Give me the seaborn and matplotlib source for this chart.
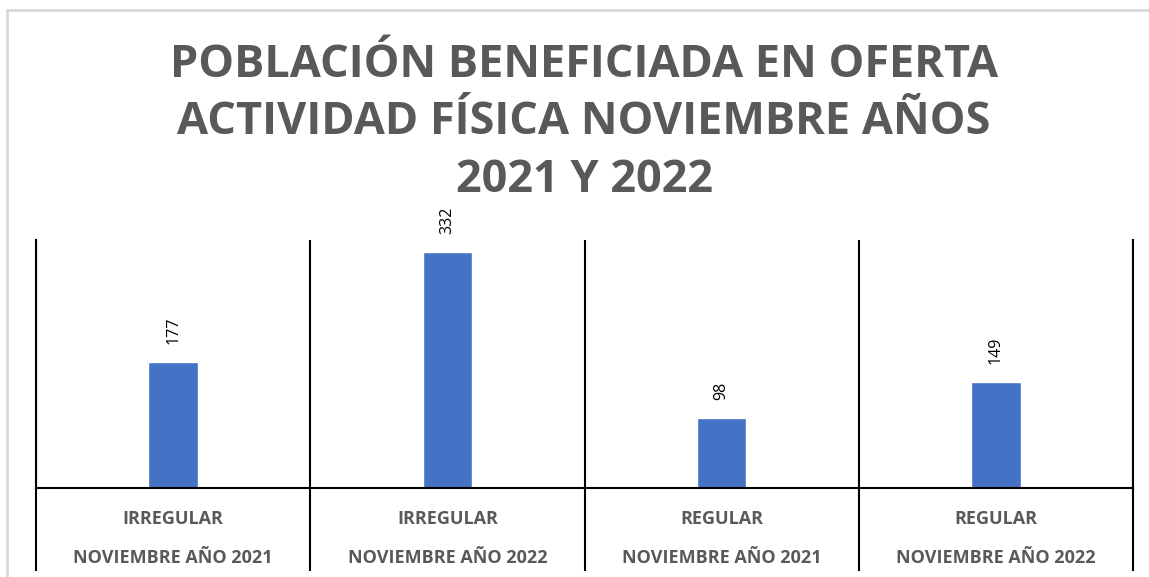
import pandas as pd
import matplotlib.pyplot as plt
import matplotlib.patches as patches
import seaborn as sns

# ==========================================
# DATOS
# ==========================================

tipos = ["IRREGULAR", "IRREGULAR", "REGULAR", "REGULAR"]
periodos = [
    "NOVIEMBRE AÑO 2021",
    "NOVIEMBRE AÑO 2022",
    "NOVIEMBRE AÑO 2021",
    "NOVIEMBRE AÑO 2022",
]
beneficiados = [177, 332, 98, 149]

titulo = "POBLACIÓN BENEFICIADA EN OFERTA\nACTIVIDAD FÍSICA NOVIEMBRE AÑOS\n2021 Y 2022"

df = pd.DataFrame({
    "categoria": [t + "\n" + p for t, p in zip(tipos, periodos)],
    "valor": beneficiados,
})

# ==========================================
# GRAFICO
# ==========================================

sns.set_theme(style="white")
plt.rcParams["font.family"] = ["Open Sans", "DejaVu Sans"]

gris = "#595959"

fig = plt.figure(figsize=(11.49, 5.77), dpi=100)
ax = fig.add_axes([36 / 1149, 89 / 577, 1097 / 1149, 248 / 577])

# borde gris del area del grafico
fig.patches.append(
    patches.Rectangle(
        (7 / 1149, -0.05), 1.0, 1 - 10 / 577 + 0.05,
        transform=fig.transFigure,
        fill=False, edgecolor="#d9d9d9", linewidth=2
    )
)

sns.barplot(
    data=df,
    x="categoria",
    y="valor",
    color="#4472C4",
    saturation=1,
    width=0.18,
    ax=ax
)

for i, v in enumerate(beneficiados):
    ax.annotate(
        str(v),
        xy=(i, v),
        xytext=(0, 13),
        textcoords="offset points",
        rotation=90,
        ha="center",
        va="bottom",
        fontsize=11.5,
        color="black"
    )

ax.set_xlim(-0.5, 3.5)
ax.set_ylim(0, 349)
ax.set_yticks([])
ax.set_xlabel("")
ax.set_ylabel("")

# separadores de categorias
ax.set_xticks([-0.5, 0.5, 1.5, 2.5, 3.5], minor=True)
ax.tick_params(axis="x", which="minor", length=60, width=1.5,
               color="black", direction="out", bottom=True)
ax.tick_params(axis="x", which="major", length=0, pad=16,
               labelsize=13, labelcolor=gris)
ax.grid(True, axis="x", which="minor", color="black", linewidth=1.5)
for lbl in ax.get_xticklabels():
    lbl.set_fontweight("bold")
    lbl.set_linespacing(2.45)

ax.spines["top"].set_visible(False)
for s in ["left", "right", "bottom"]:
    ax.spines[s].set_color("black")
    ax.spines[s].set_linewidth(1.5)

fig.text(
    584 / 1149, 1 - 123 / 577,
    titulo,
    ha="center",
    va="center",
    fontsize=32.5,
    fontweight="bold",
    color=gris,
    linespacing=1.36
)

fig.savefig("out.png", dpi=100)
